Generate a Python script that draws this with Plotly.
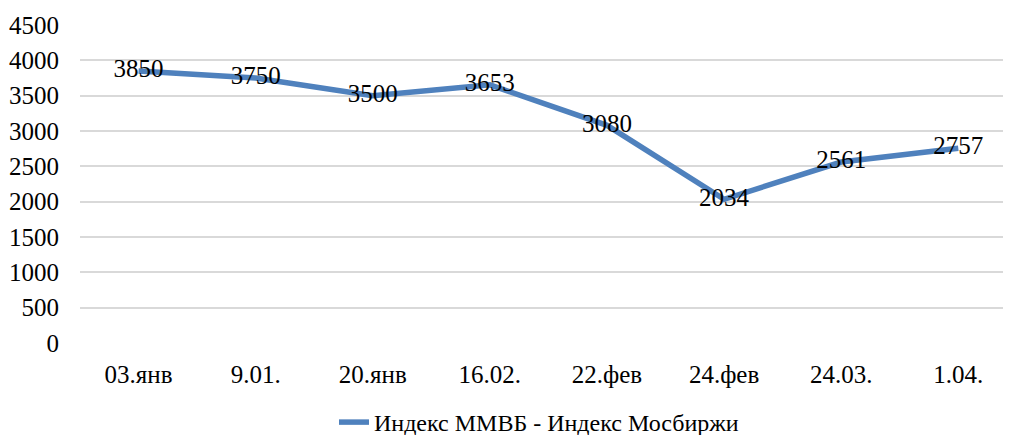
import plotly.graph_objects as go

categories = ["03.янв", "9.01.", "20.янв", "16.02.", "22.фев", "24.фев", "24.03.", "1.04."]
values = [3850, 3750, 3500, 3653, 3080, 2034, 2561, 2757]
series_name = "Индекс ММВБ - Индекс Мосбиржи"
y_ticks = [0, 500, 1000, 1500, 2000, 2500, 3000, 3500, 4000, 4500]

FONT = "Liberation Serif"
FS = 25

fig = go.Figure()
fig.add_trace(go.Scatter(
    x=list(range(len(categories))),
    y=values,
    mode="lines+text",
    name=series_name,
    line=dict(color="#4F81BD", width=5.5),
    text=[str(v) for v in values],
    textposition="middle center",
    textfont=dict(family=FONT, size=FS, color="black"),
    cliponaxis=False,
))

fig.update_layout(
    width=1003, height=427,
    margin=dict(l=72, r=0, t=17, b=92, autoexpand=False),
    paper_bgcolor="white", plot_bgcolor="white",
    font=dict(family=FONT, size=FS, color="black"),
    showlegend=True,
    legend=dict(orientation="h", x=0.493, xanchor="center", y=-0.25, yanchor="middle",
                font=dict(family=FONT, size=24, color="black"),
                bgcolor="rgba(0,0,0,0)"),
)
fig.update_xaxes(
    tickmode="array", tickvals=list(range(len(categories))), ticktext=categories,
    range=[-0.5, 7.45], showgrid=False, zeroline=False, showline=False,
    ticks="", ticklabelstandoff=14, automargin=False,
    tickfont=dict(family=FONT, size=FS, color="black"),
)
fig.update_yaxes(
    range=[0, 4500], tickmode="array", tickvals=y_ticks,
    showgrid=True, gridcolor="#D9D9D9", gridwidth=1.5,
    zeroline=False, showline=False, ticks="", ticklabelstandoff=20, automargin=False,
    tickfont=dict(family=FONT, size=FS, color="black"),
)

fig.write_html("out.html")
